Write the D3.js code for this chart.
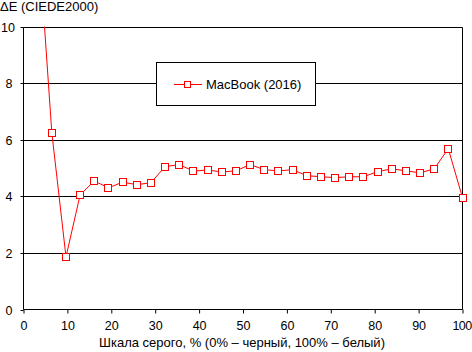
<!DOCTYPE html>
<html>
<head>
<meta charset="utf-8">
<script src="https://cdn.jsdelivr.net/npm/d3@7"></script>
<style>
  html, body { margin: 0; padding: 0; background: #fff; }
  svg { display: block; font-family: "Liberation Sans", Arial, sans-serif; }
</style>
</head>
<body>
<svg id="chart" width="472" height="352"></svg>
<script>
// Data
const seriesName = "MacBook (2016)";
const grayLevels = [3.23, 6.45, 9.68, 12.9, 16.13, 19.35, 22.58, 25.81, 29.03, 32.26, 35.48, 38.71, 41.94, 45.16, 48.39, 51.61, 54.84, 58.06, 61.29, 64.52, 67.74, 70.97, 74.19, 77.42, 80.65, 83.87, 87.1, 90.32, 93.55, 96.77, 100];
const deltaE = [13.5, 6.25, 1.86, 4.05, 4.54, 4.30, 4.50, 4.41, 4.48, 5.05, 5.12, 4.89, 4.93, 4.86, 4.90, 5.12, 4.94, 4.90, 4.94, 4.73, 4.69, 4.66, 4.69, 4.69, 4.87, 4.97, 4.90, 4.83, 4.97, 5.68, 3.95];
const xTicks = [0, 10, 20, 30, 40, 50, 60, 70, 80, 90, 100];
const yTicks = [0, 2, 4, 6, 8, 10];
const yTitle = "ΔE (CIEDE2000)";
const xTitle = "Шкала серого, % (0% – черный, 100% – белый)";

const data = grayLevels.map((g, i) => ({ x: g, y: deltaE[i] }));

const svg = d3.select("#chart");
const x = d3.scaleLinear().domain([0, 100]).range([23.5, 462.5]);
const y = d3.scaleLinear().domain([0, 10]).range([309.5, 26.5]);

// clip
svg.append("defs").append("clipPath").attr("id", "plotclip")
  .append("rect").attr("x", x(0)).attr("y", y(10)).attr("width", x(100) - x(0) + 4).attr("height", y(0) - y(10) + 4);

// gridlines
svg.append("g").selectAll("line").data(yTicks.filter(d => d > 0)).join("line")
  .attr("x1", x(0)).attr("x2", x(100))
  .attr("y1", d => Math.round(y(d)) + 0.5).attr("y2", d => Math.round(y(d)) + 0.5)
  .attr("stroke", "#000").attr("stroke-width", 1);

// right border
svg.append("line").attr("x1", x(100)).attr("x2", x(100)).attr("y1", Math.round(y(10)) + 0.5).attr("y2", y(0))
  .attr("stroke", "#000");

// y axis
const yAxis = d3.axisLeft(y).tickValues(yTicks).tickSize(3).tickPadding(8).tickFormat(d3.format("d"));
const gy = svg.append("g").attr("transform", `translate(${x(0)},0)`).call(yAxis);
gy.select(".domain").attr("d", `M0,${Math.round(y(10)) + 0.5}V${y(0)}`);
gy.selectAll(".tick line").attr("stroke", "#000");
gy.selectAll(".tick").attr("transform", d => `translate(0,${Math.round(y(d)) + 0.5})`);
gy.selectAll("text").attr("font-size", 12.5).attr("fill", "#000").attr("font-family", "Liberation Sans, Arial, sans-serif")
  .attr("dx", d => d >= 10 ? 2.5 : 0);

// x axis
const xAxis = d3.axisBottom(x).tickValues(xTicks).tickSize(4).tickPadding(8).tickFormat(d3.format("d"));
const gx = svg.append("g").attr("transform", `translate(0,${y(0)})`).call(xAxis);
gx.select(".domain").attr("d", `M${x(0)},0H${x(100)}`);
gx.selectAll("text").attr("font-size", 12.5).attr("fill", "#000").attr("font-family", "Liberation Sans, Arial, sans-serif")
  .attr("letter-spacing", d => d === 100 ? -0.6 : 0)
  .attr("dx", d => d === 100 ? -1 : 0);

// line
const line = d3.line().x(d => x(d.x)).y(d => y(d.y));
svg.append("path").datum(data).attr("clip-path", "url(#plotclip)")
  .attr("d", line).attr("fill", "none").attr("stroke", "#ff0000").attr("stroke-width", 1);

// markers
svg.append("g").selectAll("rect").data(data.filter(d => d.y <= 10)).join("rect")
  .attr("x", d => Math.round(x(d.x)) - 3.5).attr("y", d => Math.round(y(d.y)) - 3.5)
  .attr("width", 7).attr("height", 7)
  .attr("fill", "#fff").attr("stroke", "#ff0000").attr("stroke-width", 1);

// legend
const lg = svg.append("g");
lg.append("rect").attr("x", 156.5).attr("y", 62.5).attr("width", 159).attr("height", 43)
  .attr("fill", "#fff").attr("stroke", "#000");
lg.append("line").attr("x1", 174).attr("x2", 202).attr("y1", 84.5).attr("y2", 84.5).attr("stroke", "#ff0000");
lg.append("rect").attr("x", 184.5).attr("y", 81.5).attr("width", 6).attr("height", 6)
  .attr("fill", "#fff").attr("stroke", "#ff0000");
lg.append("text").attr("x", 206).attr("y", 89).attr("font-size", 13).text(seriesName);

// titles
svg.append("text").attr("x", 0).attr("y", 11).attr("font-size", 13).text(yTitle);
svg.append("text").attr("x", 242).attr("y", 347).attr("text-anchor", "middle").attr("font-size", 13).text(xTitle);
</script>
</body>
</html>
